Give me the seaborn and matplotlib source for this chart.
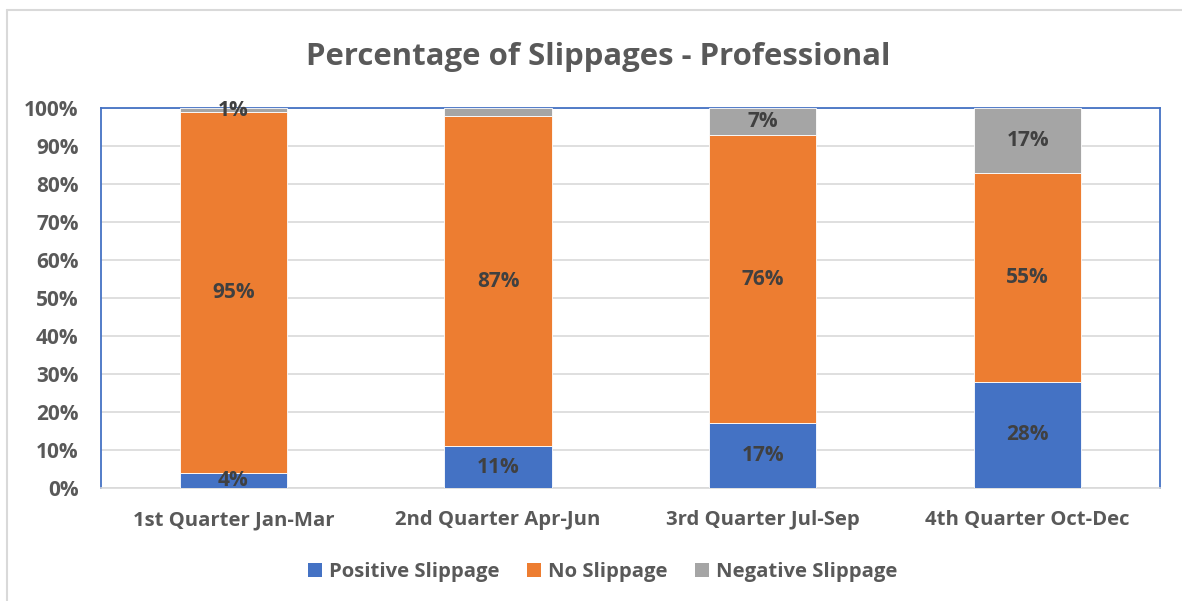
import numpy as np
import pandas as pd
import matplotlib.pyplot as plt
import seaborn as sns
from matplotlib.lines import Line2D
from matplotlib.patches import Patch

quarters = ["1st Quarter Jan-Mar", "2nd Quarter Apr-Jun", "3rd Quarter Jul-Sep", "4th Quarter Oct-Dec"]
positive = [4, 11, 17, 28]
no_slip = [95, 87, 76, 55]
negative = [1, 2, 7, 17]
# Excel hid the 2% label on the second bar
show_negative_label = [True, False, True, True]

series_names = ["Positive Slippage", "No Slippage", "Negative Slippage"]
colors = ["#4472c4", "#ed7d31", "#a5a5a5"]

sns.set_theme(style="white")
plt.rcParams['font.family'] = ['Open Sans', 'DejaVu Sans']
text_col = "#595959"

fig = plt.figure(figsize=(11.82, 6.01), dpi=100)
ax = fig.add_axes([0.0854, 0.188, 0.896, 0.632])

df = pd.DataFrame({"quarter": quarters, "pos": positive, "no": no_slip, "neg": negative})
bottoms = [np.zeros(len(quarters)), np.array(positive, float), np.array(positive, float) + np.array(no_slip)]
cols = ["pos", "no", "neg"]
for col, bot, c in zip(cols, bottoms, colors):
    sns.barplot(data=df, x="quarter", y=col, bottom=bot, color=c, width=0.405,
                ax=ax, edgecolor="white", linewidth=0.6, saturation=1, zorder=3)

# segment labels
for i in range(len(quarters)):
    segs = [(positive[i], bottoms[0][i], True),
            (no_slip[i], bottoms[1][i], True),
            (negative[i], bottoms[2][i], show_negative_label[i])]
    for v, b, show in segs:
        if show:
            ax.text(i, b + v / 2, f"{v}%", ha="center", va="center", fontsize=15,
                    fontweight="bold", color="#404040", zorder=5)

ax.set_ylim(0, 100)
ax.set_xlim(-0.5, 3.5)
ax.set_yticks(np.arange(0, 101, 10))
ax.set_yticklabels([f"{t}%" for t in range(0, 101, 10)], fontsize=15, fontweight="bold", color=text_col)
ax.set_xticks(range(len(quarters)))
ax.set_xticklabels(quarters, fontsize=14.6, fontweight="bold", color=text_col)
ax.tick_params(axis="x", pad=16, length=0)
ax.tick_params(axis="y", pad=16, length=0)
ax.set_xlabel("")
ax.set_ylabel("")
ax.yaxis.grid(True, color="#d9d9d9", linewidth=1.2, zorder=0)
ax.set_axisbelow(True)
for s in ["top", "left", "right"]:
    ax.spines[s].set_color("#4472c4")
    ax.spines[s].set_linewidth(1.3)
ax.spines["bottom"].set_color("#d9d9d9")
ax.spines["bottom"].set_linewidth(1.2)

fig.text(0.506, 0.905, "Percentage of Slippages - Professional", ha="center", va="center",
         fontsize=22.4, fontweight="bold", color=text_col)

handles = [Patch(facecolor=c, edgecolor="none") for c in colors]
fig.legend(handles, series_names, loc="center", bbox_to_anchor=(0.51, 0.048), ncol=3, frameon=False,
           prop={"size": 14.6, "weight": "bold"}, labelcolor=text_col, handlelength=0.7, handleheight=0.7,
           columnspacing=1.35, handletextpad=0.35)

# outer chart border (top and left visible)
fig.add_artist(Line2D([7 / 1182, 1], [1 - 9.5 / 601, 1 - 9.5 / 601], transform=fig.transFigure,
                      color="#d9d9d9", linewidth=1.5))
fig.add_artist(Line2D([7 / 1182, 7 / 1182], [0, 1 - 9.5 / 601], transform=fig.transFigure,
                      color="#d9d9d9", linewidth=1.5))

fig.savefig("out.png", dpi=100, facecolor="white")
